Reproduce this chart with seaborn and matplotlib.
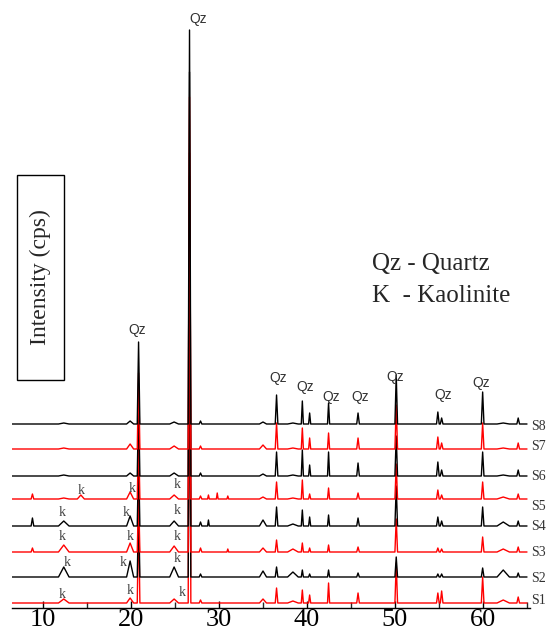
import numpy as np
import pandas as pd
import seaborn as sns
import matplotlib.pyplot as plt
from matplotlib.patches import Rectangle
from matplotlib.ticker import MultipleLocator

sns.set_theme(style="white")
plt.rcParams["font.family"] = ["Liberation Serif", "DejaVu Serif"]

# sample names, colours and vertical offsets of each pattern
samples = ["S1", "S2", "S3", "S4", "S5", "S6", "S7", "S8"]
line_colors = ["#ff0000", "#000000"] * 4
offsets = [5, 31, 56, 82, 109, 132, 159, 184]

# peak list (2theta) and half base width of each peak
peak_pos = [8.8, 12.36, 14.3, 19.9, 20.86, 24.9, 26.65, 27.9, 28.8, 29.8, 31.0,
            35.0, 36.54, 38.4, 39.47, 40.3, 42.45, 45.8, 50.14, 54.87, 55.3,
            59.96, 62.3, 64.0]
peak_width = [0.15, 0.6, 0.4, 0.4, 0.15, 0.5, 0.15, 0.15, 0.1, 0.1, 0.1,
              0.4, 0.15, 0.6, 0.12, 0.12, 0.12, 0.15, 0.15, 0.15, 0.15,
              0.15, 0.7, 0.15]

# peak heights, one list per sample
h_S1 = [0, 4, 0, 5, 90, 4, 450, 3, 0, 0, 0, 4, 15, 2, 13, 8, 20, 10, 40, 10, 12, 26, 3, 6]
h_S2 = [0, 10, 0, 16, 70, 10, 250, 3, 0, 0, 0, 6, 10, 5, 7, 3, 7, 4, 20, 3, 3, 9, 7, 4]
h_S3 = [4, 7, 0, 9, 60, 6, 300, 4, 0, 0, 3, 4, 12, 3, 9, 4, 7, 5, 33, 4, 3, 15, 3, 5]
h_S4 = [8, 5, 0, 10, 70, 5, 350, 4, 6, 0, 0, 6, 19, 2, 16, 9, 11, 8, 40, 9, 5, 19, 4, 5]
h_S5 = [5, 1, 4, 7, 65, 4, 300, 3, 4, 6, 3, 2, 17, 1, 19, 5, 11, 6, 35, 9, 4, 17, 2, 5]
h_S6 = [0, 1, 0, 3, 75, 3, 404, 3, 0, 0, 0, 2, 24, 1, 26, 11, 24, 13, 40, 14, 6, 24, 1, 6]
h_S7 = [0, 1, 0, 5, 76, 3, 352, 3, 0, 0, 0, 4, 26, 1, 21, 11, 16, 11, 44, 12, 6, 26, 1, 6]
h_S8 = [0, 1, 0, 3, 82, 2, 394, 3, 0, 0, 0, 2, 29, 1, 23, 11, 21, 11, 49, 12, 6, 32, 1, 6]
heights = [h_S1, h_S2, h_S3, h_S4, h_S5, h_S6, h_S7, h_S8]

scan_start, scan_end = 6.5, 65.0

# annotation texts
qz_x = [27.6, 20.7, 36.7, 39.8, 42.7, 46.0, 50.0, 55.5, 59.8]
qz_y = [589, 278, 230, 221, 211, 211, 231, 213, 225]
k_x = [14.3, 20.1, 25.3, 12.2, 19.4, 25.3, 12.2, 19.9, 25.3, 12.7, 19.1, 25.3, 12.2, 19.9, 25.8]
k_y = [118, 120, 123, 95, 95, 98, 71, 71, 71, 45, 45, 49, 13, 18, 16]
label_y = [8, 30, 55, 81, 102, 131, 161, 182]

rows = []
for name, off, hs in zip(samples, offsets, heights):
    pts = [(scan_start, 0), (scan_end, 0)]
    for p, w, h in zip(peak_pos, peak_width, hs):
        if h > 0:
            pts += [(p - w, 0), (p, h), (p + w, 0)]
    pts.sort()
    for x, y in pts:
        rows.append({"sample": name, "two_theta": x, "intensity": y + off})
df = pd.DataFrame(rows)

fig = plt.figure(figsize=(5.46, 6.35), dpi=100)
ax = fig.add_axes([12 / 546, 27 / 635, 518 / 546, 588 / 635])

sns.lineplot(data=df, x="two_theta", y="intensity", hue="sample",
             hue_order=samples, palette=line_colors, estimator=None,
             sort=False, legend=False, lw=1.0, ax=ax)

ax.set_xlim(10 - 31 / 8.8, 10 + 487 / 8.8)
ax.set_ylim(0, 588)
ax.set_xlabel("")
ax.set_ylabel("")
ax.set_yticks([])
ax.xaxis.set_major_locator(MultipleLocator(10))
ax.xaxis.set_minor_locator(MultipleLocator(5))
ax.tick_params(axis="x", which="major", direction="in", length=5, width=1,
               labelsize=19, pad=1, bottom=True, colors="black")
ax.tick_params(axis="x", which="minor", direction="in", length=4, width=1, bottom=True)
for s in ["left", "top", "right"]:
    ax.spines[s].set_visible(False)
ax.spines["bottom"].set_color("black")
ax.spines["bottom"].set_linewidth(1)

for x, y in zip(qz_x, qz_y):
    ax.text(x, y, "Qz", ha="center", va="center", fontsize=10, color="#333333",
            family=["Liberation Sans", "DejaVu Sans"])
for x, y in zip(k_x, k_y):
    ax.text(x, y, "k", ha="center", va="center", fontsize=10, color="#444444")
for name, y in zip(samples, label_y):
    ax.text(65.5, y, name, ha="left", va="center", fontsize=10, color="#333333",
            clip_on=False)

fig.text(372 / 546, 1 - 270 / 635, "Qz - Quartz", fontsize=18, va="baseline")
fig.text(372 / 546, 1 - 302 / 635, "K  - Kaolinite", fontsize=18, va="baseline")

fig.patches.append(Rectangle((17 / 546, 1 - 380 / 635), 47 / 546, 205 / 635,
                             transform=fig.transFigure, fill=False,
                             edgecolor="black", lw=1))
fig.text(40.5 / 546, 1 - 277.5 / 635, "Intensity (cps)", rotation=90,
         ha="center", va="center", fontsize=17)

fig.savefig("out.png", dpi=100)
